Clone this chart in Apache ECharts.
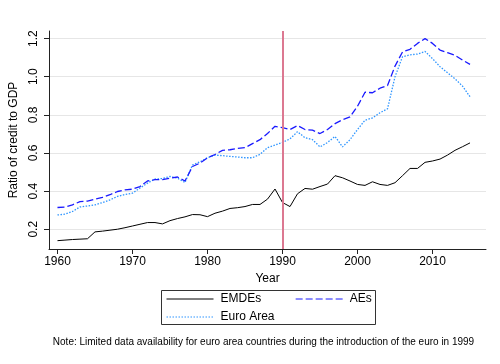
<!DOCTYPE html>
<html><head><meta charset="utf-8">
<script src="https://cdn.jsdelivr.net/npm/echarts@6/dist/echarts.min.js"></script>
<style>html,body{margin:0;padding:0;background:#fff}#c{width:500px;height:364px}</style>
</head><body><div id="c"></div>
<script>
const years = [1960,1961,1962,1963,1964,1965,1966,1967,1968,1969,1970,1971,1972,1973,1974,1975,1976,1977,1978,1979,1980,1981,1982,1983,1984,1985,1986,1987,1988,1989,1990,1991,1992,1993,1994,1995,1996,1997,1998,1999,2000,2001,2002,2003,2004,2005,2006,2007,2008,2009,2010,2011,2012,2013,2014,2015];
const emdes = [0.140,0.143,0.146,0.148,0.150,0.186,0.190,0.195,0.200,0.208,0.217,0.226,0.235,0.235,0.228,0.245,0.256,0.265,0.277,0.276,0.266,0.284,0.295,0.309,0.313,0.319,0.330,0.330,0.358,0.411,0.340,0.319,0.386,0.414,0.410,0.424,0.437,0.481,0.470,0.453,0.435,0.430,0.449,0.435,0.430,0.444,0.481,0.519,0.519,0.551,0.558,0.568,0.589,0.614,0.633,0.653];
const aes = [0.314,0.316,0.328,0.345,0.348,0.358,0.367,0.381,0.398,0.407,0.410,0.424,0.453,0.460,0.460,0.468,0.474,0.453,0.529,0.547,0.575,0.592,0.614,0.617,0.624,0.628,0.649,0.670,0.702,0.740,0.733,0.723,0.744,0.723,0.720,0.702,0.723,0.754,0.775,0.789,0.845,0.919,0.916,0.940,0.954,1.056,1.130,1.144,1.175,1.200,1.175,1.140,1.126,1.112,1.087,1.065];
const euroArea = [0.275,0.279,0.293,0.317,0.322,0.328,0.340,0.354,0.372,0.382,0.389,0.416,0.442,0.463,0.466,0.477,0.468,0.445,0.537,0.554,0.575,0.589,0.586,0.582,0.579,0.575,0.575,0.593,0.628,0.642,0.656,0.674,0.712,0.680,0.670,0.632,0.655,0.687,0.632,0.670,0.723,0.772,0.784,0.811,0.832,1.000,1.105,1.115,1.119,1.133,1.095,1.053,1.021,0.989,0.951,0.895];
const xTicks = [1960,1970,1980,1990,2000,2010];
const yTicks = [0.2,0.4,0.6,0.8,1.0,1.2];
const markYear = 1990;
const seriesNames = ['EMDEs','AEs','Euro Area'];
const noteText = 'Note: Limited data availability for euro area countries during the introduction of the euro in 1999';

const FONT = "'Liberation Sans', Arial, Helvetica, sans-serif";
const pairs = arr => years.map((y,i)=>[y,arr[i]]);
const chart = echarts.init(document.getElementById('c'), null, {renderer:'canvas'});
const axisCol = '#222';
const legendCommon = {padding:0,itemWidth:47,itemHeight:14,
  itemStyle:{opacity:0,color:'transparent',borderWidth:0},
  lineStyle:{width:1},
  textStyle:{fontFamily:FONT,fontSize:12,color:'#000',padding:[0,0,0,2]}};
chart.setOption({
  animation:false,
  backgroundColor:'#fff',
  grid:{left:49,right:14,top:31,bottom:115,containLabel:false},
  xAxis:{type:'value',min:1958.87,max:2017.13,
    name:'Year',nameLocation:'middle',nameGap:21,
    nameTextStyle:{fontFamily:FONT,fontSize:12,color:'#000'},
    axisLine:{lineStyle:{color:axisCol,width:1}},
    axisTick:{show:true,length:5,lineStyle:{color:axisCol},customValues:xTicks},
    axisLabel:{fontFamily:FONT,fontSize:12,color:'#000',margin:7,customValues:xTicks,formatter:v=>String(v)},
    splitLine:{show:false}},
  yAxis:{type:'value',min:0.0963,max:1.24,
    name:'Ratio of credit to GDP',nameLocation:'middle',nameGap:13,
    nameTextStyle:{fontFamily:FONT,fontSize:12,color:'#000'},
    axisLine:{show:true,lineStyle:{color:axisCol,width:1}},
    axisTick:{show:true,length:5,lineStyle:{color:axisCol},customValues:yTicks},
    axisLabel:{fontFamily:FONT,fontSize:12,color:'#000',rotate:90,margin:9,customValues:yTicks,formatter:v=>v.toFixed(1)},
    splitLine:{show:true,lineStyle:{color:'#e6e6e6',width:1}}},
  legend:[
    Object.assign({data:[seriesNames[0],seriesNames[1]],left:166,top:293,itemGap:34},legendCommon),
    Object.assign({data:[seriesNames[2]],left:166,top:311},legendCommon)
  ],
  graphic:[
    {type:'rect',shape:{x:161.5,y:290.5,width:214,height:34},style:{fill:'none',stroke:'#333',lineWidth:1},silent:true},
    {type:'text',x:263.5,y:342,style:{text:noteText,fontFamily:FONT,fontSize:10,fill:'#000',align:'center',verticalAlign:'middle'},silent:true}
  ],
  series:[
    {name:seriesNames[0],type:'line',data:pairs(emdes),symbol:'none',lineStyle:{color:'#000',width:1},itemStyle:{color:'#000'},z:3,
     markLine:{silent:true,symbol:'none',label:{show:false},lineStyle:{color:'#dc7891',width:2,type:'solid'},data:[{xAxis:markYear}]}},
    {name:seriesNames[1],type:'line',data:pairs(aes),symbol:'none',lineStyle:{color:'#1a1aff',width:1.3,type:[7,3]},itemStyle:{color:'#1a1aff'},z:2},
    {name:seriesNames[2],type:'line',data:pairs(euroArea),symbol:'none',lineStyle:{color:'#2e95ff',width:1.3,type:[1.5,1.5]},itemStyle:{color:'#2e95ff'},z:1}
  ]
});
</script></body></html>
